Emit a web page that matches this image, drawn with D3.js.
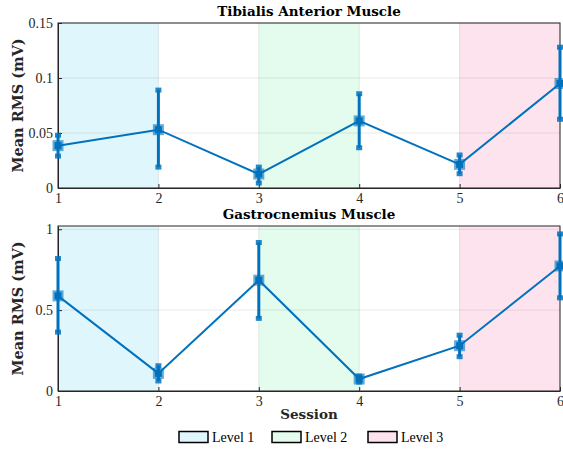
<!DOCTYPE html>
<html>
<head>
<meta charset="utf-8">
<script src="https://cdn.jsdelivr.net/npm/d3@7"></script>
<style>
  body { margin: 0; background: #fff; }
</style>
</head>
<body>
<div id="chart"></div>
<script>
// sessions on the x axis
const sessions = [1, 2, 3, 4, 5, 6];

// Tibialis anterior: mean and error bar ends (mV)
const taMean  = [0.0385, 0.053, 0.0127, 0.061, 0.0215, 0.095];
const taLow   = [0.029, 0.019, 0.0045, 0.0366, 0.013, 0.0625];
const taHigh  = [0.048, 0.089, 0.019, 0.0857, 0.030, 0.128];

// Gastrocnemius: mean and error bar ends (mV)
const gaMean  = [0.588, 0.109, 0.685, 0.074, 0.28, 0.773];
const gaLow   = [0.364, 0.062, 0.449, 0.055, 0.212, 0.576];
const gaHigh  = [0.819, 0.156, 0.918, 0.092, 0.345, 0.971];

// shaded levels
const levelNames = ["Level 1", "Level 2", "Level 3"];
const levelStart = [1, 3, 5];
const levelEnd   = [2, 4, 6];
const levelColors = ["#e0f6fd", "#e3fcee", "#fde3ee"];

const taTicks = [0, 0.05, 0.1, 0.15];
const gaTicks = [0, 0.5, 1];

const blue = "#0072bd";
const serif = "'DejaVu Serif', serif";
const serifLight = "'Liberation Serif', 'Times New Roman', serif";

const W = 563, H = 449;
const svg = d3.select("#chart").append("svg")
  .attr("width", W).attr("height", H);

const left = 58, right = 560;
const x = d3.scaleLinear().domain([1, 6]).range([left, right]);

function panel(top, bottom, yMax, ticks, tickFmt, mean, low, high, title) {
  const y = d3.scaleLinear().domain([0, yMax]).range([bottom, top]);
  const g = svg.append("g");

  // coloured level patches
  levelNames.forEach((n, i) => {
    g.append("rect")
      .attr("x", x(levelStart[i])).attr("y", top)
      .attr("width", x(levelEnd[i]) - x(levelStart[i]))
      .attr("height", bottom - top)
      .attr("fill", levelColors[i]);
  });

  // grid
  g.append("g").selectAll("line").data(ticks).join("line")
    .attr("x1", left).attr("x2", right)
    .attr("y1", d => y(d)).attr("y2", d => y(d))
    .attr("stroke", "#262626").attr("stroke-opacity", 0.1);
  g.append("g").selectAll("line").data(sessions).join("line")
    .attr("y1", top).attr("y2", bottom)
    .attr("x1", d => x(d)).attr("x2", d => x(d))
    .attr("stroke", "#262626").attr("stroke-opacity", 0.1);

  // axes
  const yAxis = g.append("g").attr("transform", `translate(${left},0)`)
    .call(d3.axisLeft(y).tickValues(ticks).tickFormat(tickFmt).tickSizeInner(-4).tickSizeOuter(0).tickPadding(5));
  const xAxis = g.append("g").attr("transform", `translate(0,${bottom})`)
    .call(d3.axisBottom(x).tickValues(sessions).tickFormat(d3.format("d")).tickSizeInner(-4).tickSizeOuter(0).tickPadding(5));
  [xAxis, yAxis].forEach(a => {
    a.selectAll("path, line").attr("stroke", "#262626");
    a.selectAll("text").style("font-size", "14px").style("fill", "#262626")
      .style("font-family", serifLight);
  });

  // box
  g.append("rect").attr("x", left).attr("y", top)
    .attr("width", right - left).attr("height", bottom - top)
    .attr("fill", "none").attr("stroke", "#262626").attr("stroke-width", 1);

  // line
  const line = d3.line().x((d, i) => x(sessions[i])).y(d => y(d));
  g.append("path").datum(mean).attr("d", line)
    .attr("fill", "none").attr("stroke", blue).attr("stroke-width", 2);

  // error bars
  sessions.forEach((s, i) => {
    g.append("line")
      .attr("x1", x(s)).attr("x2", x(s))
      .attr("y1", y(low[i])).attr("y2", y(high[i]))
      .attr("stroke", blue).attr("stroke-width", 3);
    [low[i], high[i]].forEach(v => {
      g.append("rect").attr("x", x(s) - 3).attr("y", y(v) - 2.5)
        .attr("width", 6).attr("height", 5).attr("fill", blue).attr("opacity", 0.85);
    });
    g.append("rect").attr("x", x(s) - 5.5).attr("y", y(mean[i]) - 5.5)
      .attr("width", 11).attr("height", 11).attr("fill", blue).attr("opacity", 0.6);
    g.append("rect").attr("x", x(s) - 3.5).attr("y", y(mean[i]) - 3.5)
      .attr("width", 7).attr("height", 7).attr("fill", blue);
  });

  // title
  svg.append("text").attr("x", (left + right) / 2).attr("y", top - 7)
    .attr("text-anchor", "middle")
    .style("font-family", serif).style("font-weight", "bold").style("font-size", "13.5px")
    .style("fill", "#000")
    .text(title);

  // y label
  svg.append("text")
    .attr("transform", `translate(23,${(top + bottom) / 2}) rotate(-90)`)
    .attr("text-anchor", "middle")
    .style("font-family", serif).style("font-weight", "bold").style("font-size", "14.5px")
    .style("fill", "#262626")
    .text("Mean RMS (mV)");
}

panel(23, 188, 0.15, taTicks, d => d === 0 ? "0" : String(d), taMean, taLow, taHigh, "Tibialis Anterior Muscle");
panel(226, 391, 1.02, gaTicks, d => String(d), gaMean, gaLow, gaHigh, "Gastrocnemius Muscle");

// x label
svg.append("text").attr("x", (left + right) / 2).attr("y", 419)
  .attr("text-anchor", "middle")
  .style("font-family", serif).style("font-weight", "bold").style("font-size", "13.5px")
  .style("fill", "#262626")
  .text("Session");

// legend
const legX = [179, 272, 368];
levelNames.forEach((n, i) => {
  svg.append("rect").attr("x", legX[i]).attr("y", 431.5)
    .attr("width", 29).attr("height", 11)
    .attr("fill", levelColors[i]).attr("stroke", "#000").attr("stroke-width", 1.5);
  svg.append("text").attr("x", legX[i] + 33).attr("y", 442)
    .style("font-family", serifLight).style("font-size", "14px").style("fill", "#000")
    .text(n);
});
</script>
</body>
</html>
